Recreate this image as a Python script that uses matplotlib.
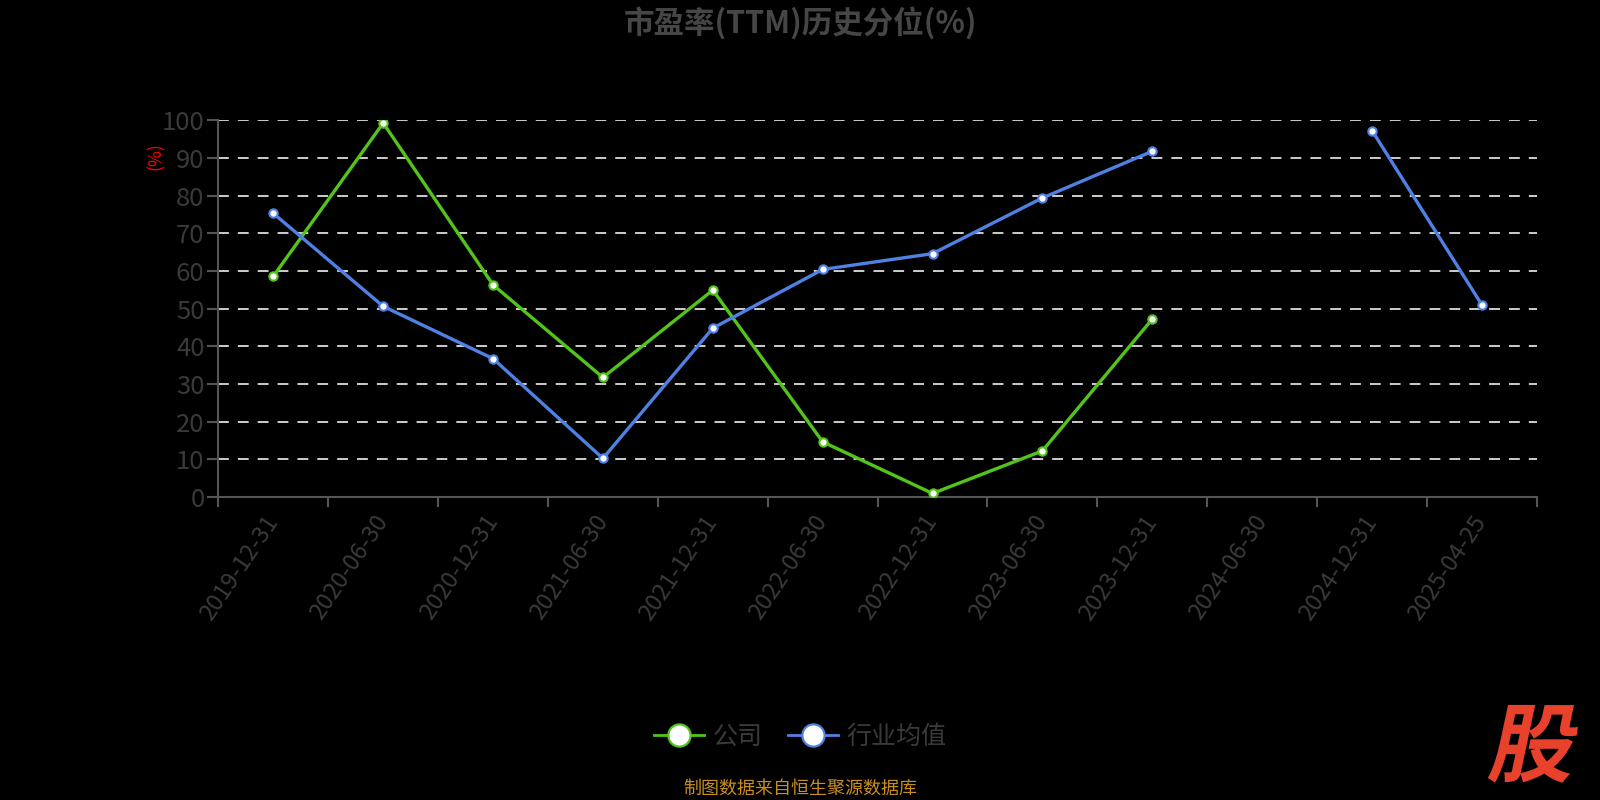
from matplotlib import pyplot as plt
from matplotlib.lines import Line2D
from matplotlib.textpath import TextPath
from matplotlib.patches import PathPatch
from matplotlib.font_manager import FontProperties
from matplotlib.transforms import Affine2D
import numpy as np

plt.rcParams['font.family'] = ['Noto Sans CJK SC', 'DejaVu Sans']

dates = ["2019-12-31", "2020-06-30", "2020-12-31", "2021-06-30",
         "2021-12-31", "2022-06-30", "2022-12-31", "2023-06-30",
         "2023-12-31", "2024-06-30", "2024-12-31", "2025-04-25"]
company = [58.6, 99.3, 56.3, 31.7, 54.9, 14.6, 0.9, 12.2, 47.2,
           np.nan, np.nan, np.nan]
industry = [75.3, 50.6, 36.7, 10.2, 44.8, 60.4, 64.6, 79.4, 91.8,
            np.nan, 97.3, 51.0]

green = '#52c41a'
blue = '#4f81e5'
txt_gray = '#3a3a3a'
axis_gray = '#555555'

fig = plt.figure(figsize=(16, 8), dpi=100, facecolor='black')
ax = fig.add_axes([0.1365, 0.379, 0.824, 0.4705], facecolor='black')

x = np.arange(len(dates))
ax.plot(x, company, color=green, lw=2.4, marker='o', ms=6,
        mfc='white', mec=green, mew=1.5, zorder=3)
ax.plot(x, industry, color=blue, lw=2.4, marker='o', ms=6,
        mfc='white', mec=blue, mew=1.5, zorder=3)

ax.set_xlim(-0.5, len(dates) - 0.5)
ax.set_ylim(0, 100)
ax.set_yticks(np.arange(0, 101, 10))
for v in range(10, 101, 10):
    ax.axhline(v, color='#dddddd', lw=1.3, ls=(0, (6, 5)), zorder=1)

ax.set_xticks(x)
ax.set_xticklabels(dates, rotation=56, ha='right', va='center',
                   rotation_mode='anchor', fontsize=17, color=txt_gray)
ax.set_xticks(np.arange(-0.5, len(dates)), minor=True)
ax.tick_params(axis='x', which='major', length=0, pad=15)
ax.tick_params(axis='x', which='minor', length=7, width=1.5,
               color=axis_gray)
ax.tick_params(axis='y', length=8, width=1.5, color=axis_gray,
               labelsize=18.5, labelcolor=txt_gray, pad=2)

for side in ['top', 'right']:
    ax.spines[side].set_visible(False)
for side in ['left', 'bottom']:
    ax.spines[side].set_color(axis_gray)
    ax.spines[side].set_linewidth(1.5)

fig.text(0.5, 1 - 23 / 800, "市盈率(TTM)历史分位(%)", ha='center',
         va='center', fontsize=22, fontweight='bold', color='#464646')
fig.text(156 / 1600, 1 - 156 / 800, "(%)", rotation=90, ha='center',
         va='center', fontsize=12.5, color='red')

handles = [Line2D([], [], color=green, lw=2, marker='o', ms=16,
                  mfc='white', mec=green, mew=1.6),
           Line2D([], [], color=blue, lw=2, marker='o', ms=16,
                  mfc='white', mec=blue, mew=1.6)]
leg = fig.legend(handles, ["公司", "行业均值"], loc='center',
                 bbox_to_anchor=(0.5, 0.079), ncol=2, frameon=False,
                 fontsize=18, handlelength=2.0, handletextpad=0.35,
                 columnspacing=1.0)
for t in leg.get_texts():
    t.set_color(txt_gray)

fig.text(0.5, 1 - 789 / 800, "制图数据来自恒生聚源数据库", ha='center',
         va='center', fontsize=13, color='#c98f1e')

# slanted logo
fp = FontProperties(family='Noto Sans CJK SC', weight='heavy')
tp = TextPath((0, 0), "股", size=86, prop=fp)
tr = Affine2D().skew_deg(12, 0).translate(1486, 25)
patch = PathPatch(tr.transform_path(tp), color='#e8412c', lw=0,
                  transform=None)
fig.patches.append(patch)

fig.savefig("out.png", dpi=100, facecolor='black')
